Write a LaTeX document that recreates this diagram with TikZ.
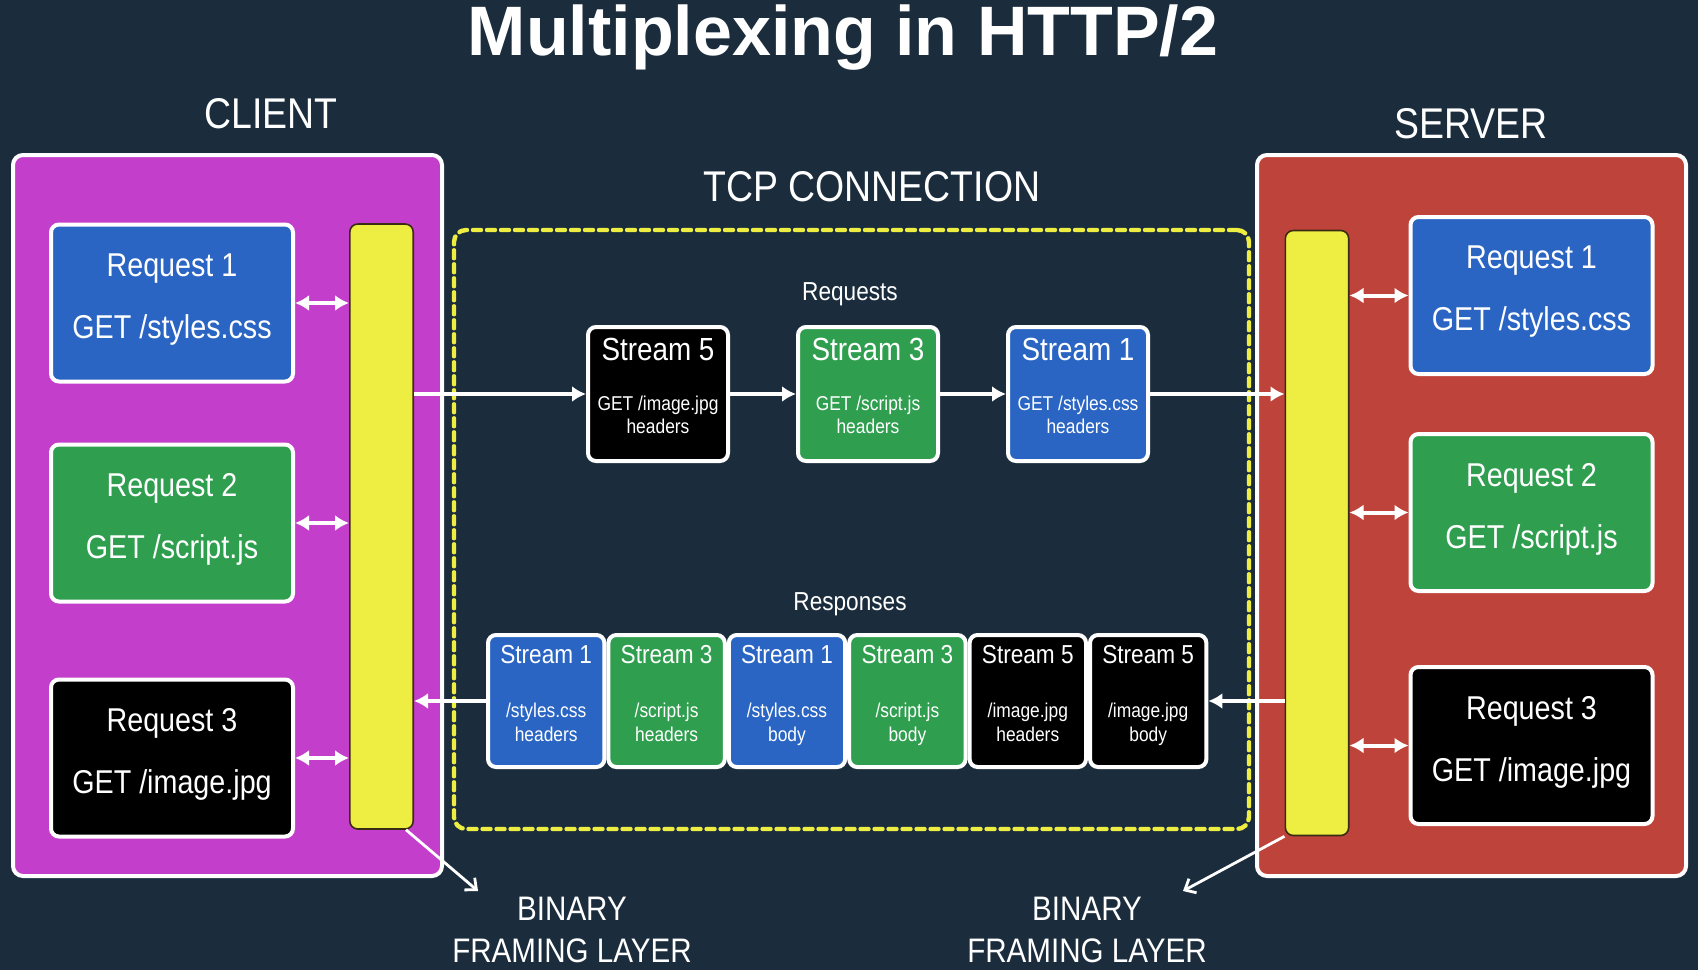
\documentclass[tikz,border=0pt]{standalone}
\usepackage{fontspec}
\setmainfont{Liberation Sans}[FakeStretch=0.87]
\newfontfamily\titlefont{Liberation Sans}
\usetikzlibrary{arrows.meta,positioning}
\definecolor{bgnavy}{HTML}{1B2D3D}
\definecolor{clientpink}{HTML}{C33FCB}
\definecolor{serverred}{HTML}{BE433B}
\definecolor{reqblue}{HTML}{2A65C4}
\definecolor{reqgreen}{HTML}{2F9F4F}
\definecolor{baryellow}{HTML}{EDED42}
\definecolor{baredge}{HTML}{3A2C12}
\newcommand{\padb}[1]{\rule[-#1]{0pt}{#1}}
\tikzset{
  sidebox/.style={draw=white, line width=2pt, rounded corners=5pt,
    minimum width=214.5pt, minimum height=360.5pt},
  reqbox/.style={draw=white, line width=2pt, rounded corners=4pt, align=center,
    minimum width=121pt, minimum height=78.5pt, text=white,
    font=\fontsize{16.5}{20}\selectfont},
  bluebox/.style={fill=reqblue},
  greenbox/.style={fill=reqgreen},
  blackbox/.style={fill=black},
  framebar/.style={draw=baredge, fill=baryellow, line width=0.8pt, rounded corners=4pt,
    minimum width=31.7pt, minimum height=302.5pt},
  streambox/.style={draw=white, line width=2pt, rounded corners=4pt, align=center,
    minimum width=70pt, minimum height=67pt, text=white,
    font=\fontsize{10}{11.5}\selectfont},
  framebox/.style={draw=white, line width=2pt, rounded corners=4pt, align=center,
    minimum width=58.2pt, minimum height=66pt, text=white,
    font=\fontsize{10}{12}\selectfont},
  biglbl/.style={text=white, inner sep=0pt, font=\fontsize{21.5}{26}\selectfont},
  smalllbl/.style={text=white, inner sep=0pt, font=\fontsize{13}{15}\selectfont},
  binlbl/.style={text=white, inner sep=0pt, align=center, font=\fontsize{17}{21}\selectfont},
  arr/.style={-{Latex[length=7pt,width=8pt]}, line width=2pt, draw=white},
  dblarr/.style={{Latex[length=7pt,width=8pt]}-{Latex[length=7pt,width=8pt]},
    line width=2pt, draw=white},
  thinarr/.style={-{Straight Barb[length=4.5pt,width=8pt]}, line width=1.4pt, draw=white}
}
\begin{document}
\begin{tikzpicture}[x=0.5pt, y=-0.5pt]
  \fill[bgnavy] (0,0) rectangle (1698,970);

  \node[text=white, inner sep=0pt, anchor=base, font=\titlefont\bfseries\fontsize{35}{40}\selectfont]
    (title) at (843,55) {Multiplexing in HTTP/2};

  % client side
  \node[biglbl, anchor=base] (clientlbl) at (271,128) {CLIENT};
  \node[sidebox, fill=clientpink] (cbox) at (227.5,515.5) {};
  \node[reqbox, bluebox] (creq1) at (172,303) {Request 1\\[11pt]GET /styles.css\padb{7pt}};
  \node[reqbox, greenbox, below=29.5pt of creq1] (creq2) {Request 2\\[11pt]GET /script.js\padb{7pt}};
  \node[reqbox, blackbox, below=37pt of creq2] (creq3) {Request 3\\[11pt]GET /image.jpg\padb{7pt}};
  \node[framebar] (cbar) at (381.5,526.5) {};

  % server side
  \node[biglbl, anchor=base] (serverlbl) at (1471,138) {SERVER};
  \node[sidebox, fill=serverred] (sbox) at (1471.5,515.5) {};
  \node[reqbox, bluebox] (sreq1) at (1531.5,295.5) {Request 1\\[11pt]GET /styles.css\padb{7pt}};
  \node[reqbox, greenbox, below=28pt of sreq1] (sreq2) {Request 2\\[11pt]GET /script.js\padb{7pt}};
  \node[reqbox, blackbox, below=36pt of sreq2] (sreq3) {Request 3\\[11pt]GET /image.jpg\padb{7pt}};
  \node[framebar] (sbar) at (1317,533) {};

  % tcp connection
  \node[biglbl, anchor=base] (tcplbl) at (872,201) {TCP CONNECTION};
  \node[draw=baryellow, line width=2.2pt, dash pattern=on 4pt off 3pt, line cap=round,
    rounded corners=6pt, minimum width=397.5pt, minimum height=299.5pt] (tcp) at (851.5,529.5) {};

  \node[smalllbl, anchor=base] (reqlbl) at (850,300) {Requests};
  \node[streambox, blackbox] (rq5) at (658,394)
    {{\fontsize{16}{19}\selectfont Stream 5}\\[13.5pt]GET /image.jpg\\headers\padb{8pt}};
  \node[streambox, greenbox, right=33pt of rq5] (rq3)
    {{\fontsize{16}{19}\selectfont Stream 3}\\[13.5pt]GET /script.js\\headers\padb{8pt}};
  \node[streambox, bluebox, right=33pt of rq3] (rq1)
    {{\fontsize{16}{19}\selectfont Stream 1}\\[13.5pt]GET /styles.css\\headers\padb{8pt}};

  \node[smalllbl, anchor=base] (reslbl) at (850,610) {Responses};
  \node[framebox, bluebox] (rs1) at (546.2,701)
    {{\fontsize{13}{15}\selectfont Stream 1}\\[15pt]/styles.css\\headers\padb{8pt}};
  \node[framebox, greenbox, right=0pt of rs1] (rs2)
    {{\fontsize{13}{15}\selectfont Stream 3}\\[15pt]/script.js\\headers\padb{8pt}};
  \node[framebox, bluebox, right=0pt of rs2] (rs3)
    {{\fontsize{13}{15}\selectfont Stream 1}\\[15pt]/styles.css\\body\padb{8pt}};
  \node[framebox, greenbox, right=0pt of rs3] (rs4)
    {{\fontsize{13}{15}\selectfont Stream 3}\\[15pt]/script.js\\body\padb{8pt}};
  \node[framebox, blackbox, right=0pt of rs4] (rs5)
    {{\fontsize{13}{15}\selectfont Stream 5}\\[15pt]/image.jpg\\headers\padb{8pt}};
  \node[framebox, blackbox, right=0pt of rs5] (rs6)
    {{\fontsize{13}{15}\selectfont Stream 5}\\[15pt]/image.jpg\\body\padb{8pt}};

  % binary framing labels
  \node[binlbl, anchor=north] (cbin) at (572,897) {BINARY\\FRAMING LAYER};
  \node[binlbl, anchor=north] (sbin) at (1087,897) {BINARY\\FRAMING LAYER};
  \coordinate (cfl) at (478,891);
  \coordinate (sfl) at (1183,891);

  % connectors
  \foreach \n in {1,2,3} {
    \draw[dblarr] (creq\n.east) -- (creq\n.east -| cbar.west);
    \draw[dblarr] (sreq\n.west) -- (sreq\n.west -| sbar.east);
  }
  \draw[arr] (rq5.west -| cbar.east) -- (rq5.west);
  \draw[arr] (rq5) -- (rq3);
  \draw[arr] (rq3) -- (rq1);
  \draw[arr] (rq1.east) -- (rq1.east -| sbar.west);
  \draw[arr] (rs6.east -| sbar.west) -- (rs6.east);
  \draw[arr] (rs1.west) -- (rs1.west -| cbar.east);
  \draw[thinarr] ([xshift=-4pt]cbar.south east) -- (cfl);
  \draw[thinarr] (sbar.south west) -- (sfl);
\end{tikzpicture}
\end{document}
